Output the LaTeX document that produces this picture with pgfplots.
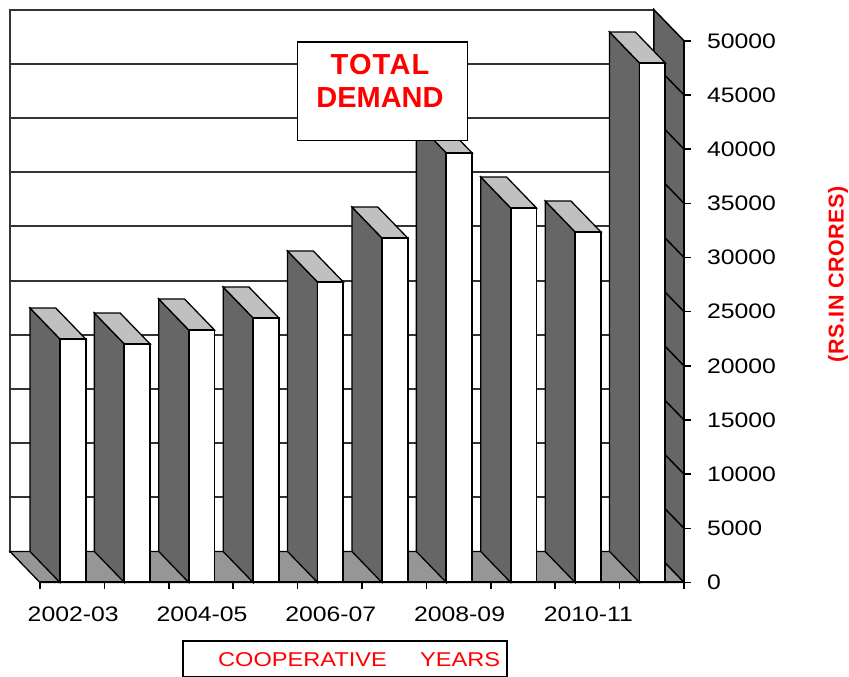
\documentclass[border=0pt]{standalone}
\usepackage{fontspec}
\setmainfont{Liberation Sans}
\newfontfamily\widefont[FakeStretch=1.18]{Liberation Sans}
\usepackage{pgfplots}
\pgfplotsset{compat=1.18}
\usepackage{pgfplotstable}
\definecolor{sideface}{HTML}{666666}
\definecolor{topface}{HTML}{C0C0C0}
\definecolor{floorface}{HTML}{969696}
\pgfplotsset{gridl/.style={draw=black!80,line width=2pt}}
\pgfplotstableread{
pos value
0.51 22475
1.51 22014
2.51 23306
3.51 24413
4.51 27736
5.51 31797
6.51 39643
7.51 34567
8.51 32353
9.51 47950
}\demand
% #1 category, #2 value, #3 value + depth offset of 2861
\newcommand\barsolid[3]{%
  \pgfmathsetmacro\xa{#1+0.31}\pgfmathsetmacro\xb{#1+0.71}%
  \pgfmathsetmacro\xc{#1+0.31-0.466}\pgfmathsetmacro\xd{#1+0.71-0.466}%
  \addplot[draw=black,line width=1.3pt,fill=sideface] coordinates {(\xa,0)(\xc,2861)(\xc,#3)(\xa,#2)} -- cycle;
  \addplot[draw=black,line width=1.3pt,fill=topface] coordinates {(\xa,#2)(\xc,#3)(\xd,#3)(\xb,#2)} -- cycle;
}
\begin{document}
\begin{tikzpicture}[x=1pt,y=1pt]
\path[use as bounding box] (-40,-94.5) rectangle (809,582.5);
\begin{axis}[
  at={(0,0)},anchor=origin,
  scale only axis,width=644pt,height=541.7pt,
  xmin=0,xmax=10,ymin=0,ymax=50000,
  clip=false,axis on top,
  axis x line=bottom,axis y line=right,
  axis line style={-,line width=2pt,black},
  tick style={black,line width=1.6pt},
  tick align=outside,major tick length=6.5pt,
  xtick={0,1,...,10},xticklabels={},
  extra x ticks={0.5,2.5,4.5,6.5,8.5},
  extra x tick labels={2002-03,2004-05,2006-07,2008-09,2010-11},
  extra x tick style={major tick length=0pt,tick style={draw=none},
     tick label style={font=\widefont\fontsize{21}{24}\selectfont,yshift=-21pt,xshift=1pt}},
  ytick={0,5000,...,50000},
  scaled y ticks=false,
  yticklabel style={font=\widefont\fontsize{21}{24}\selectfont,xshift=13pt},
  /pgf/number format/.cd,fixed,1000 sep={},assume math mode=true,
]
% back wall
\addplot[gridl,fill=white] coordinates {(-0.466,2861)(-0.466,52861)(9.534,52861)(9.534,2861)} -- cycle;
% back wall grid lines
\addplot[gridl] coordinates {(-0.466,7861)(9.534,7861)};
\addplot[gridl] coordinates {(-0.466,12861)(9.534,12861)};
\addplot[gridl] coordinates {(-0.466,17861)(9.534,17861)};
\addplot[gridl] coordinates {(-0.466,22861)(9.534,22861)};
\addplot[gridl] coordinates {(-0.466,27861)(9.534,27861)};
\addplot[gridl] coordinates {(-0.466,32861)(9.534,32861)};
\addplot[gridl] coordinates {(-0.466,37861)(9.534,37861)};
\addplot[gridl] coordinates {(-0.466,42861)(9.534,42861)};
\addplot[gridl] coordinates {(-0.466,47861)(9.534,47861)};
% side wall
\addplot[draw=black,line width=1.5pt,fill=sideface] coordinates {(9.534,2861)(9.534,52861)(10,50000)(10,0)} -- cycle;
\addplot[black,line width=1.5pt] coordinates {(9.534,7861)(10,5000)};
\addplot[black,line width=1.5pt] coordinates {(9.534,12861)(10,10000)};
\addplot[black,line width=1.5pt] coordinates {(9.534,17861)(10,15000)};
\addplot[black,line width=1.5pt] coordinates {(9.534,22861)(10,20000)};
\addplot[black,line width=1.5pt] coordinates {(9.534,27861)(10,25000)};
\addplot[black,line width=1.5pt] coordinates {(9.534,32861)(10,30000)};
\addplot[black,line width=1.5pt] coordinates {(9.534,37861)(10,35000)};
\addplot[black,line width=1.5pt] coordinates {(9.534,42861)(10,40000)};
\addplot[black,line width=1.5pt] coordinates {(9.534,47861)(10,45000)};
% floor
\addplot[draw=black,line width=1.3pt,fill=floorface] coordinates {(-0.466,2861)(9.534,2861)(10,0)(0,0)} -- cycle;
% bars: side and top faces
\barsolid{0}{22475}{25336}
\barsolid{1}{22014}{24875}
\barsolid{2}{23306}{26167}
\barsolid{3}{24413}{27274}
\barsolid{4}{27736}{30597}
\barsolid{5}{31797}{34658}
\barsolid{6}{39643}{42504}
\barsolid{7}{34567}{37428}
\barsolid{8}{32353}{35214}
\barsolid{9}{47950}{50811}
% bars: front faces
\addplot[ybar,bar width=25.8pt,draw=black,line width=1.8pt,fill=white] table[x=pos,y=value] {\demand};
\end{axis}
% title box (px -> pt: x-40, 582.5-y)
\node[draw=black,line width=1.5pt,fill=white,minimum width=170pt,minimum height=98.5pt,inner sep=0pt,anchor=north west] at (256.5,541) {};
\node[text=red,font=\bfseries\fontsize{29}{33}\selectfont] at (340,518) {\addfontfeature{LetterSpace=4}TOTAL};
\node[text=red,font=\bfseries\fontsize{29}{33}\selectfont] at (340,485) {DEMAND};
% bottom box
\node[draw=black,line width=2pt,fill=white,minimum width=324pt,minimum height=36pt,inner sep=0pt,anchor=north west] at (142,-57.5) {};
\node[text=red,font=\widefont\fontsize{20}{24}\selectfont,anchor=west,inner sep=0pt] at (178,-77) {COOPERATIVE};
\node[text=red,font=\widefont\fontsize{20}{24}\selectfont,anchor=west,inner sep=0pt] at (380,-77) {YEARS};
% right label
\node[text=red,rotate=90,font=\bfseries\fontsize{21.5}{24}\selectfont] at (798,308) {\addfontfeature{LetterSpace=2.5}(RS.IN CRORES)};
\end{tikzpicture}
\end{document}
